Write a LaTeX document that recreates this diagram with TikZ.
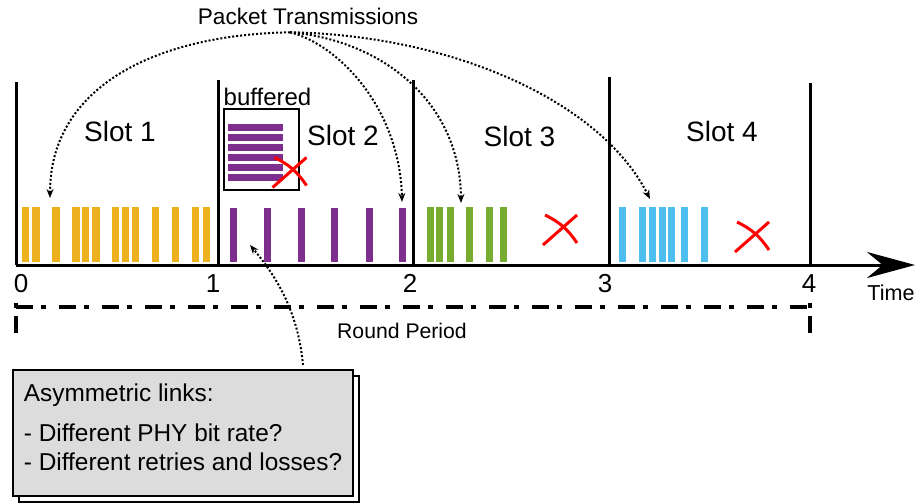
\documentclass[tikz,border=0pt]{standalone}
\usepackage{fontspec}
\setmainfont{Liberation Sans}
\usepackage{tikz}
\usetikzlibrary{arrows.meta,shadows}
\definecolor{slotyellow}{RGB}{237, 177, 32}
\definecolor{slotpurple}{RGB}{126, 47, 142}
\definecolor{slotgreen}{RGB}{119, 172, 48}
\definecolor{slotblue}{RGB}{77, 190, 238}
\definecolor{lossred}{RGB}{255, 0, 0}
\definecolor{notegray}{RGB}{220, 220, 220}

\begin{document}
\begin{tikzpicture}[x=0.5pt, y=-0.5pt,
    slotline/.style={line width=1.5pt},
    period/.style={line width=2pt, dash pattern=on 8.5pt off 4pt on 2.5pt off 6.5pt},
    pointer/.style={densely dotted, line width=1pt, -{Stealth[length=4.5pt, width=3.5pt]}},
    lost/.style={lossred, line width=1.5pt},
    slotlabel/.style={anchor=base, font=\fontsize{14}{16}\selectfont},
    ticklabel/.style={anchor=base, font=\fontsize{13}{15}\selectfont}]
\useasboundingbox (0,0) rectangle (922,503);
% Time axis and slot borders
\draw[line width=1.5pt, -{Stealth[length=24pt, width=13pt]}] (16,265) -- (915,265);
\foreach \x/\top in {16/82, 218/80, 413/80, 609/77, 810/83} {
    \draw[slotline] (\x,\top) -- (\x,265);
}
\foreach \x/\t in {21/0, 213/1, 410/2, 605/3, 809/4} {
    \node[ticklabel] (tick\t) at (\x,292) {\t};
}
\node[anchor=base, font=\fontsize{10.8}{13}\selectfont] (time) at (891,300) {Time};
% Round period
\draw[period] (16,307) -- (810,307);
\foreach \x in {16, 810} {
    \draw[period] (\x,333) -- (\x,300);
}
\node[anchor=base, font=\fontsize{10.6}{12}\selectfont] (round) at (402,338) {Round Period};
% Packets per slot
\foreach \x in {25.5,36,56,76,85.5,96,115.5,125.5,135.5,155.5,175.5,195.5,206.5}
    \fill[slotyellow] (\x-3.75,207) rectangle (\x+3.75,262);
\foreach \x in {233,267,301,334.5,369.5,402}
    \fill[slotpurple] (\x-3.5,208) rectangle (\x+3.5,262);
\foreach \x in {430.5,439.5,450.5,469.5,489.5,503}
    \fill[slotgreen] (\x-3.5,207) rectangle (\x+3.5,262);
\foreach \x in {622.5,642.5,652.5,662.5,671.5,684.5,704.5}
    \fill[slotblue] (\x-3.5,207) rectangle (\x+3.5,262);
% Slot labels
\node[slotlabel] (slot1) at (120,141) {Slot 1};
\node[slotlabel] (slot2) at (343,145) {Slot 2};
\node[slotlabel] (slot3) at (519.5,146) {Slot 3};
\node[slotlabel] (slot4) at (722,141) {Slot 4};
% Buffered packets
\node[draw, line width=1pt, minimum width=37.5pt, minimum height=40.5pt, inner sep=0pt] (buf) at (261.5,149.5) {};
\node[anchor=base, font=\fontsize{12}{14}\selectfont] (buflabel) at (267.5,105) {buffered};
\foreach \y in {127,137,...,177}
    \fill[slotpurple] (228,\y-3.5) rectangle (283,\y+3.5);
% Losses
\foreach \cx/\cy in {289.5/172.5, 560/230, 752/237} {
    \draw[lost] (\cx-17,\cy+15) -- (\cx+17,\cy-15);
    \draw[lost] (\cx-15,\cy-15) to[bend left=15] (\cx+17,\cy+13);
}
% Pointers
\node[anchor=base, font=\fontsize{11.3}{13}\selectfont] (pkt) at (308,25) {Packet Transmissions};
\coordinate (hit1) at (50,198);
\coordinate (hit2) at (402,202);
\coordinate (hit3) at (461,203);
\coordinate (hit4) at (650,199);
\coordinate (hit5) at (250,245);
\draw[pointer] ([xshift=-9pt]pkt.south) .. controls (150,35) and (50,90) .. (hit1);
\draw[pointer] ([xshift=-9pt]pkt.south) .. controls (340,45) and (400,110) .. (hit2);
\draw[pointer] ([xshift=-9pt]pkt.south) .. controls (380,40) and (460,100) .. (hit3);
\draw[pointer] ([xshift=-9pt]pkt.south) .. controls (450,35) and (600,100) .. (hit4);
% Note box
\node[draw, fill=notegray, line width=1pt, anchor=north west, minimum width=170pt, minimum height=63pt,
    align=left, font=\fontsize{12.2}{14.5}\selectfont,
    general shadow={fill=white, draw=black, line width=1pt, shadow xshift=3pt, shadow yshift=-3pt}]
    (note) at (12,369) {Asymmetric links:\\[5.5pt]
    - Different PHY bit rate?\\
    - Different retries and losses?\rule[-5.5pt]{0pt}{5.5pt}};
\draw[pointer] ([xshift=60pt, yshift=2pt]note.north) .. controls (298,310) and (275,275) .. (hit5);
\end{tikzpicture}
\end{document}
